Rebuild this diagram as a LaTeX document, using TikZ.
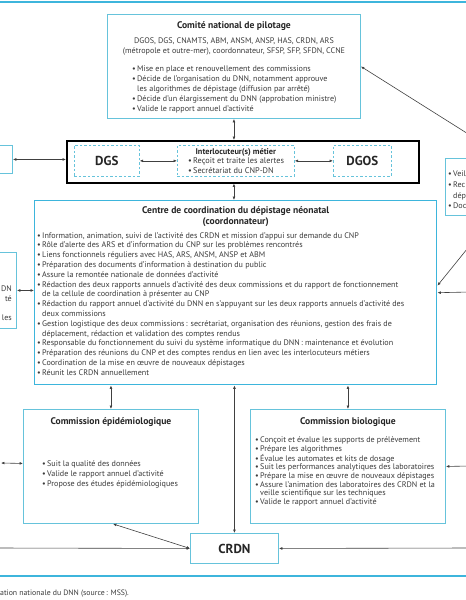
\documentclass[tikz,border=0pt]{standalone}
\usepackage{fontspec}
\setmainfont{PT Sans}
\usetikzlibrary{arrows.meta, positioning, calc}
\definecolor{cBox}{HTML}{66C3DB}
\definecolor{cMain}{HTML}{3DB5DC}
\definecolor{cTxt}{HTML}{3A3A3A}
\definecolor{cLine}{HTML}{404040}
\newcommand{\bul}{\makebox[5pt][l]{\textbullet}}
\newcommand{\cont}{\hspace*{5pt}}

\begin{document}
\begin{tikzpicture}[
  x=1pt, y=-1pt,
  font=\fontsize{8.1}{9.8}\selectfont, text=cTxt,
  >={Latex[length=3.4pt, width=2.8pt]},
  panel/.style={rectangle, draw=cBox, line width=0.9pt, anchor=north west, inner sep=0pt},
  core/.style={panel, draw=cMain, line width=1.4pt},
  dashbox/.style={panel, dashed, dash pattern=on 2.5pt off 2pt, line width=0.7pt},
  ttl/.style={font=\bfseries\fontsize{9.6}{11}\selectfont, text=black!85, align=center, inner sep=0pt},
  bigtxt/.style={font=\bfseries\fontsize{13}{15}\selectfont, text=black!85},
  lst/.style={align=left, inner sep=0pt, anchor=north west},
  flow/.style={draw=cLine, line width=0.6pt},
  edgeline/.style={draw=cMain, line width=1.1pt},
]
\path[use as bounding box] (0,0) rectangle (466,600);
\clip (0,0) rectangle (466,600);

% ===== frame rules and caption =====
\draw[edgeline] (0,2) -- (466,2);
\draw[edgeline] (0,576) -- (466,576);
\node[lst, anchor=base west, font=\fontsize{7.8}{9}\selectfont] (caption) at (0,595)
  {ation nationale du DNN (source\,: MSS).};

% ===== comité national de pilotage =====
\node[panel, minimum width=253, minimum height=104] (cnp) at (107,14) {};
\node[ttl, below=7.5pt of cnp.north] (cnpT) {Comité national de pilotage};
\node[lst, align=center, below=24pt of cnp.north] (cnpM)
  {DGOS, DGS, CNAMTS, ABM, ANSM, ANSP, HAS, CRDN, ARS\\(métropole et outre-mer), coordonnateur, SFSP, SFP, SFDN, CCNE};
\node[lst, below right=52pt and 25pt of cnp.north west] (cnpL)
  {\bul Mise en place et renouvellement des commissions\\
   \bul Décide de l’organisation du DNN, notamment approuve\\
   \cont les algorithmes de dépistage (diffusion par arrêté)\\
   \bul Décide d’un élargissement du DNN (approbation ministre)\\
   \bul Valide le rapport annuel d’activité};

% ===== interlocuteurs =====
\node[panel, draw=black, line width=1.5pt, minimum width=352, minimum height=42] (itf) at (66,140) {};
\node[dashbox, bigtxt, minimum width=65, minimum height=31] (dgs) at (74,145) {DGS};
\node[dashbox, minimum width=117, minimum height=31] (metier) at (177,145) {};
\node[dashbox, bigtxt, minimum width=58, minimum height=31] (dgos) at (333,145) {DGOS};
\node[ttl, font=\bfseries\fontsize{8.3}{9}\selectfont, below=3pt of metier.north] (metierT) {Interlocuteur(s) métier};
\node[lst, font=\fontsize{8.3}{10}\selectfont, below right=12pt and 11pt of metier.north west] (metierL)
  {\bul Reçoit et traite les alertes\\\bul Secrétariat du CNP-DN};

% side boxes cut by the page edge
\node[panel, minimum width=52, minimum height=28] (leftA) at (-40,145) {};
\node[panel, minimum width=56, minimum height=76] (leftB) at (-40,252) {};
\node[lst, align=right, anchor=north east] (leftBtxt) at (12,285.5) {DN\\té\\\\les};
\node[panel, minimum width=60, minimum height=57] (rightA) at (445,158) {};
\node[lst, font=\fontsize{8.1}{10.6}\selectfont] (rightAtxt) at (448,171)
  {\bul Veil\\\bul Rec\\\cont dép\\\bul Doc};

% ===== centre de coordination =====
\node[core, minimum width=402, minimum height=184] (ccdn) at (34,200) {};
\node[ttl, below=6.5pt of ccdn.north] (ccdnT) {Centre de coordination du dépistage néonatal\\(coordonnateur)};
\node[lst, below right=32pt and 3pt of ccdn.north west] (ccdnL)
  {\bul Information, animation, suivi de l’activité des CRDN et mission d’appui sur demande du CNP\\
   \bul Rôle d’alerte des ARS et d’information du CNP sur les problèmes rencontrés\\
   \bul Liens fonctionnels réguliers avec HAS, ARS, ANSM, ANSP et ABM\\
   \bul Préparation des documents d’information à destination du public\\
   \bul Assure la remontée nationale de données d’activité\\
   \bul Rédaction des deux rapports annuels d’activité des deux commissions et du rapport de fonctionnement\\
   \cont de la cellule de coordination à présenter au CNP\\
   \bul Rédaction du rapport annuel d’activité du DNN en s’appuyant sur les deux rapports annuels d’activité des\\
   \cont deux commissions\\
   \bul Gestion logistique des deux commissions\,: secrétariat, organisation des réunions, gestion des frais de\\
   \cont déplacement, rédaction et validation des comptes rendus\\
   \bul Responsable du fonctionnement du suivi du système informatique du DNN\,: maintenance et évolution\\
   \bul Préparation des réunions du CNP et des comptes rendus en lien avec les interlocuteurs métiers\\
   \bul Coordination de la mise en œuvre de nouveaux dépistages\\
   \bul Réunit les CRDN annuellement};

% ===== commissions =====
\node[panel, minimum width=175, minimum height=114] (epi) at (23,409) {};
\node[ttl, below=8.5pt of epi.north] (epiT) {Commission épidémiologique};
\node[lst, font=\fontsize{8.1}{10}\selectfont, below right=51pt and 19pt of epi.north west] (epiL)
  {\bul Suit la qualité des données\\
   \bul Valide le rapport annuel d’activité\\
   \bul Propose des études épidémiologiques};

\node[panel, minimum width=195, minimum height=114] (bio) at (250,409) {};
\node[ttl, below=8.5pt of bio.north] (bioT) {Commission biologique};
\node[lst, font=\fontsize{8.1}{8.7}\selectfont, below right=27.5pt and 5pt of bio.north west] (bioL)
  {\bul Conçoit et évalue les supports de prélèvement\\
   \bul Prépare les algorithmes\\
   \bul Évalue les automates et kits de dosage\\
   \bul Suit les performances analytiques des laboratoires\\
   \bul Prépare la mise en œuvre de nouveaux dépistages\\
   \bul Assure l’animation des laboratoires des CRDN et la\\
   \cont veille scientifique sur les techniques\\
   \bul Valide le rapport annuel d’activité};

\node[panel, bigtxt, minimum width=88, minimum height=30] (crdn) at (190,533) {CRDN};

% ===== connectors =====
\coordinate (toCnp) at (500,154);
\coordinate (toCcdnA) at (480,233);
\coordinate (toCcdnB) at (470,292);
\coordinate (toEpi) at (1,463);
\coordinate (toBio) at (470,466);
\coordinate (toCrdnW) at (-5,548);
\coordinate (toCrdnE) at (470,548);

\draw[flow, <->] (cnp.south) -- (cnp.south |- itf.north);
\draw[flow, <->] (cnp.south |- itf.south) -- (cnp.south |- ccdn.north);
\foreach \a/\b in {dgs/metier, metier/dgos}
  \draw[flow, <->] (\a) -- (\b);
\draw[flow, <->] (leftA.east) -- (leftA.east -| itf.west);
\draw[flow, <->] (leftB.east) -- (leftB.east -| ccdn.west);
\draw[flow, ->] (toCnp) -- (cnp.east);
\draw[flow, ->] (toCcdnA) -- ([yshift=7pt]ccdn.east);
\draw[flow, ->] (toCcdnB) -- (ccdn.east);
\foreach \b in {epi, crdn, bio}
  \draw[flow, <->] (\b.north |- ccdn.south) -- (\b.north);
\draw[flow, <->] ([xshift=2pt]epi.south) -- (crdn.west);
\draw[flow, <->] (toEpi) -- ([yshift=3pt]epi.west);
\draw[flow, ->] (toBio) -- (bio.east);
\draw[flow, ->] (toCrdnW) -- (crdn.west);
\draw[flow, ->] (toCrdnE) -- (crdn.east);

\end{tikzpicture}
\end{document}
